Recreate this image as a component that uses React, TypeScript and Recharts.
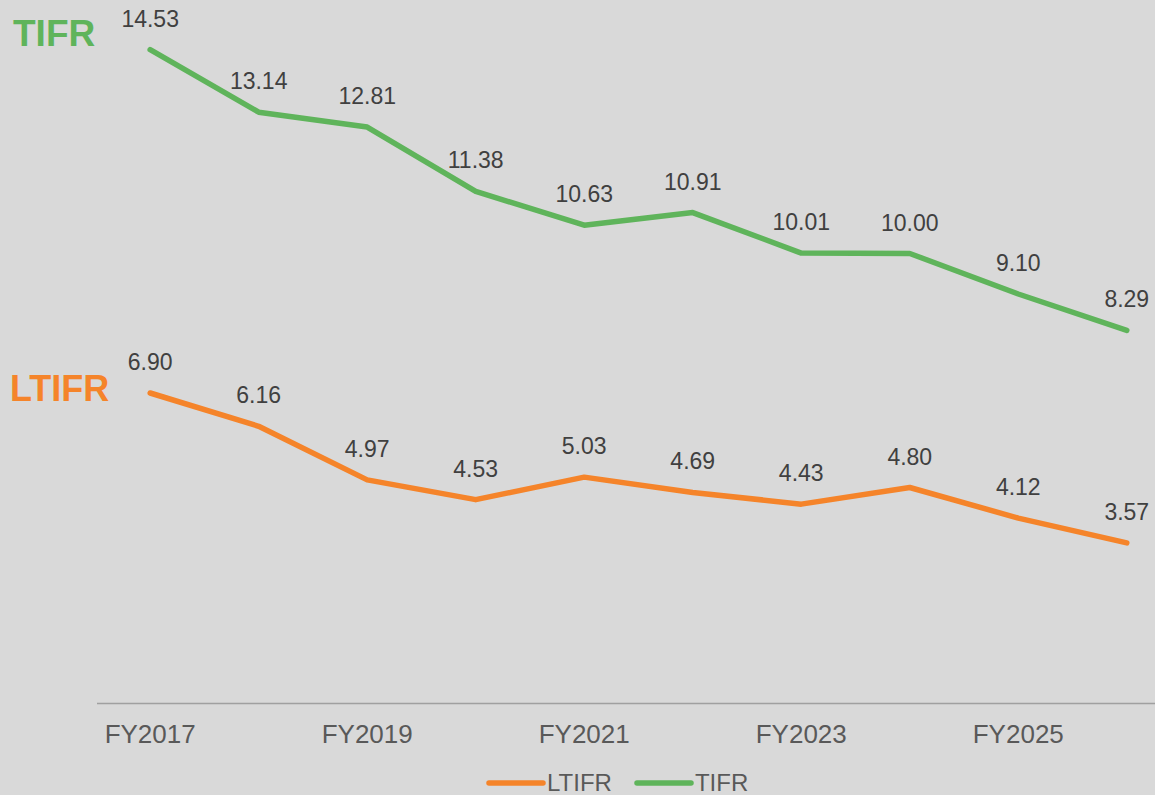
import React from "react";
import { LineChart, Line, XAxis, YAxis, LabelList, Legend } from "recharts";

const categories = ["FY2017", "FY2018", "FY2019", "FY2020", "FY2021", "FY2022", "FY2023", "FY2024", "FY2025", "FY2026"];
const tifr = [14.53, 13.14, 12.81, 11.38, 10.63, 10.91, 10.01, 10.0, 9.1, 8.29];
const ltifr = [6.9, 6.16, 4.97, 4.53, 5.03, 4.69, 4.43, 4.8, 4.12, 3.57];
const tickIndexes = [0, 2, 4, 6, 8];

const ORANGE = "#F5842A";
const GREEN = "#5FB45B";
const FONT = "'Liberation Sans', Arial, sans-serif";

const data = categories.map((c, i) => ({ i, name: c, LTIFR: ltifr[i], TIFR: tifr[i] }));

const LegendContent = (props: any) => {
  const { payload } = props;
  return (
    <div style={{ display: "flex", alignItems: "center", fontFamily: FONT }}>
      {(payload || []).map((p: any, idx: number) => (
        <div key={idx} style={{ display: "flex", alignItems: "center", marginRight: 22 }}>
          <svg width={60} height={10} style={{ display: "block" }}>
            <line x1={3} y1={5} x2={57} y2={5} stroke={p.color} strokeWidth={5.5} strokeLinecap="round" />
          </svg>
          <span style={{ fontSize: 24, color: "#595959", marginLeft: 1, lineHeight: "28px" }}>{p.value}</span>
        </div>
      ))}
    </div>
  );
};

export default function App() {
  return (
    <div style={{ position: "absolute", left: 0, top: 0, width: 1155, height: 795, background: "#D9D9D9", overflow: "hidden" }}>
      <LineChart
        width={1155}
        height={795}
        data={data}
        margin={{ top: 28.5, right: 0, left: 97, bottom: 41.5 }}
      >
        <XAxis
          dataKey="i"
          type="number"
          domain={[-0.49, 9.26]}
          allowDataOverflow
          ticks={tickIndexes}
          tickFormatter={(v: number) => categories[v]}
          axisLine={{ stroke: "#A0A0A0", strokeWidth: 1.5 }}
          tickLine={false}
          tickSize={0}
          tickMargin={21}
          height={50}
          tick={{ fill: "#595959", fontSize: 26, fontFamily: FONT }}
        />
        <YAxis hide domain={[0, 15]} type="number" />
        <Legend
          layout="horizontal"
          verticalAlign="middle"
          align="center"
          content={<LegendContent />}
          wrapperStyle={{ top: 769, left: 486, width: "auto" }}
        />
        <Line
          dataKey="LTIFR"
          stroke={ORANGE}
          strokeWidth={5.5}
          strokeLinejoin="round"
          strokeLinecap="round"
          dot={false}
          activeDot={false}
          isAnimationActive={false}
        >
          <LabelList
            dataKey="LTIFR"
            position="top"
            offset={23}
            fill="#404040"
            fontSize={23}
            fontFamily={FONT}
            formatter={(v: any) => Number(v).toFixed(2)}
          />
        </Line>
        <Line
          dataKey="TIFR"
          stroke={GREEN}
          strokeWidth={5.5}
          strokeLinejoin="round"
          strokeLinecap="round"
          dot={false}
          activeDot={false}
          isAnimationActive={false}
        >
          <LabelList
            dataKey="TIFR"
            position="top"
            offset={23}
            fill="#404040"
            fontSize={23}
            fontFamily={FONT}
            formatter={(v: any) => Number(v).toFixed(2)}
          />
        </Line>
      </LineChart>
      <svg width={1155} height={795} style={{ position: "absolute", left: 0, top: 0, pointerEvents: "none" }}>
        <text x={13} y={46} fill={GREEN} fontSize={37} fontWeight="bold" fontFamily={FONT}>TIFR</text>
        <text x={10} y={401} fill={ORANGE} fontSize={36} fontWeight="bold" fontFamily={FONT}>LTIFR</text>
      </svg>
    </div>
  );
}
